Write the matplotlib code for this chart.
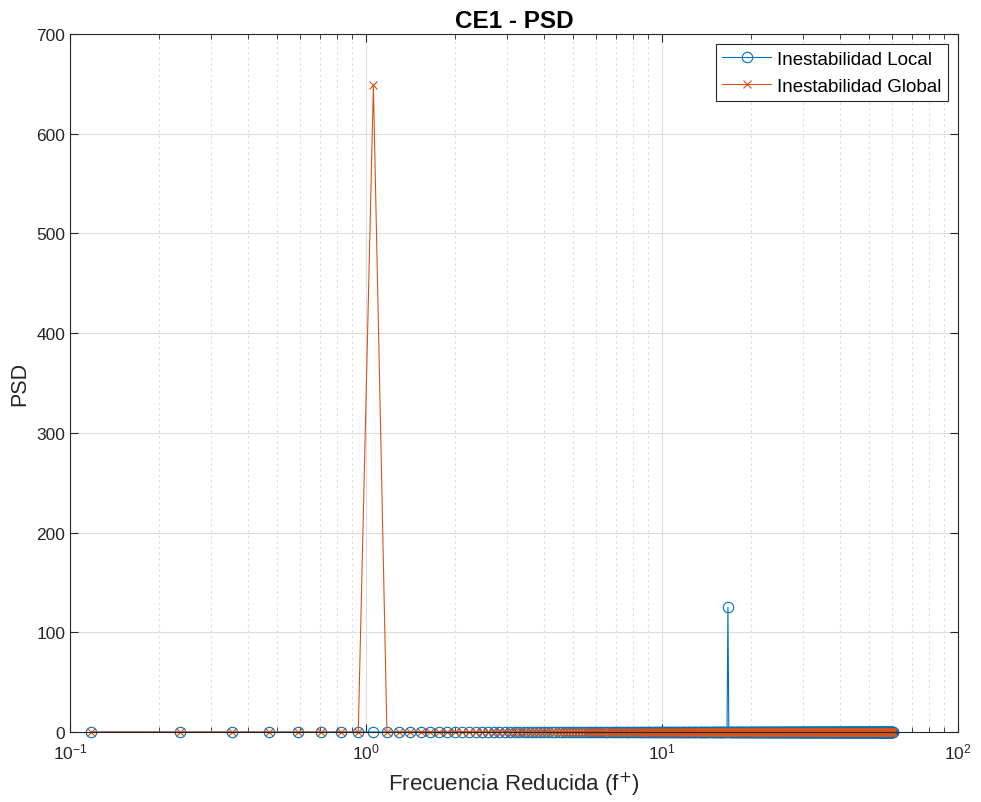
import matplotlib
matplotlib.use("Agg")
import matplotlib.pyplot as plt
import numpy as np
from matplotlib.ticker import LogLocator, NullFormatter, MultipleLocator

plt.rcParams["font.family"] = ["Liberation Sans", "DejaVu Sans"]

# Frequency grid (reduced frequency f+), bin spacing
df = 0.1177
n_bins = 512
freq = df * np.arange(1, n_bins + 1)

# PSD values: essentially zero everywhere except one peak per series
psd_local = np.zeros(n_bins)
psd_local[141] = 125.0     # f+ ~ 16.7

psd_global = np.zeros(n_bins)
psd_global[8] = 649.0      # f+ ~ 1.06

blue = "#0072BD"
orange = "#D95319"
axis_gray = "#262626"

fig = plt.figure(figsize=(9.81, 8.03), dpi=100)
ax = fig.add_axes([0.0714, 0.0872, 0.905, 0.8692])

ax.semilogx(freq, psd_local, color=blue, lw=0.8, marker="o", ms=7.5,
            mfc="none", mew=0.8, label="Inestabilidad Local", clip_on=False)
ax.semilogx(freq, psd_global, color=orange, lw=0.8, marker="x", ms=6,
            mew=0.8, label="Inestabilidad Global", clip_on=False)

ax.set_xlim(0.1, 100)
ax.set_ylim(0, 700)
ax.yaxis.set_major_locator(MultipleLocator(100))
ax.xaxis.set_major_locator(LogLocator(base=10, numticks=10))
ax.xaxis.set_minor_locator(LogLocator(base=10, subs=np.arange(2, 10), numticks=20))
ax.xaxis.set_minor_formatter(NullFormatter())

ax.grid(True, which="major", color="#dcdcdc", lw=0.8)
ax.grid(True, which="minor", axis="x", color="#dcdcdc", lw=0.8, ls=(0, (2, 3)))
ax.set_axisbelow(True)

ax.tick_params(which="both", direction="in", top=True, right=True,
               colors=axis_gray, labelsize=12.5)
ax.tick_params(which="major", length=6)
ax.tick_params(which="minor", length=3.5)
ax.tick_params(axis="x", which="major", pad=7)
for s in ax.spines.values():
    s.set_color(axis_gray)
    s.set_linewidth(0.8)

ax.set_title("CE1 - PSD", fontsize=17.5, fontweight="bold", color="black", pad=5)
ax.set_xlabel("Frecuencia Reducida (f$^{+}$)", fontsize=16, color=axis_gray,
              labelpad=6)
ax.set_ylabel("PSD", fontsize=15.5, color=axis_gray)

leg = ax.legend(loc="upper right", fontsize=13.5, fancybox=False, framealpha=1,
                edgecolor=axis_gray, borderpad=0.35, labelspacing=0.5,
                handlelength=2.6, handletextpad=0.3, borderaxespad=0.55)
leg.get_frame().set_linewidth(0.8)

fig.savefig("out.png", dpi=100)
